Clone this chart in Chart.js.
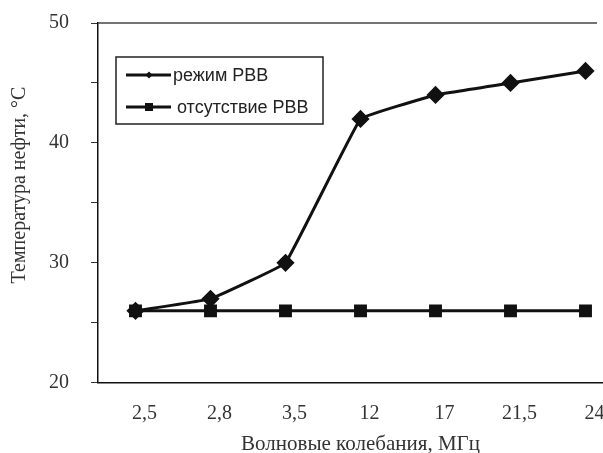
<!DOCTYPE html>
<html>
<head>
<meta charset="utf-8">
<script src="https://cdn.jsdelivr.net/npm/chart.js@4/dist/chart.umd.min.js"></script>
<style>
html,body{margin:0;padding:0;background:#fff;overflow:hidden;}
#wrap{width:633px;height:453px;position:relative;}
</style>
</head>
<body>
<div id="wrap"><canvas id="c"></canvas></div>
<script>
const categories = ['2,5', '2,8', '3,5', '12', '17', '21,5', '24'];
const seriesRVB = [26, 27, 30, 42, 44, 45, 46];
const seriesNoRVB = [26, 26, 26, 26, 26, 26, 26];
const seriesNames = ['режим РВВ', 'отсутствие РВВ'];
const xTitle = 'Волновые колебания, МГц';
const yTitle = 'Температура нефти, °С';
const yMin = 20, yMax = 50, yStep = 5;

const serif = '"Liberation Serif", "Times New Roman", serif';

const decor = {
  id: 'decor',
  afterDraw(chart) {
    const ctx = chart.ctx;
    const a = chart.chartArea;
    ctx.save();
    // top border of plot area
    ctx.strokeStyle = '#444';
    ctx.lineWidth = 1.5;
    ctx.beginPath();
    ctx.moveTo(a.left, a.top);
    ctx.lineTo(597, a.top);
    ctx.stroke();
    // y axis title
    ctx.save();
    ctx.translate(20, 185);
    ctx.rotate(-Math.PI / 2);
    ctx.font = '20px ' + serif;
    ctx.fillStyle = '#333';
    ctx.textAlign = 'center';
    ctx.textBaseline = 'middle';
    ctx.fillText(yTitle, 0, 0);
    ctx.restore();
    // legend box
    const bx = 116, by = 57, bw = 207, bh = 67;
    ctx.fillStyle = '#fff';
    ctx.fillRect(bx, by, bw, bh);
    ctx.strokeStyle = '#222';
    ctx.lineWidth = 1.5;
    ctx.strokeRect(bx, by, bw, bh);
    ctx.font = '18px "Liberation Sans", Arial, sans-serif';
    ctx.textBaseline = 'middle';
    const rows = [75, 107];
    chart.data.datasets.forEach((ds, i) => {
      const y = rows[i];
      ctx.strokeStyle = '#111';
      ctx.lineWidth = 3;
      ctx.beginPath();
      ctx.moveTo(126, y);
      ctx.lineTo(171, y);
      ctx.stroke();
      ctx.fillStyle = '#111';
      if (i === 0) {
        ctx.beginPath();
        ctx.moveTo(149, y - 3.5); ctx.lineTo(152.5, y); ctx.lineTo(149, y + 3.5); ctx.lineTo(145.5, y);
        ctx.closePath(); ctx.fill();
      } else {
        ctx.fillRect(145, y - 4, 8, 8);
      }
      ctx.fillStyle = '#222';
      ctx.textAlign = 'left';
      ctx.fillText(ds.label, i === 0 ? 173 : 177, y + 1);
    });
    ctx.restore();
  }
};

new Chart(document.getElementById('c'), {
  type: 'line',
  data: {
    labels: categories,
    datasets: [
      {
        label: seriesNames[0],
        data: seriesRVB,
        borderColor: '#111',
        backgroundColor: '#111',
        borderWidth: 3,
        tension: 0.06,
        pointStyle: 'rectRot',
        pointRadius: 7,
        pointHoverRadius: 7,
        fill: false
      },
      {
        label: seriesNames[1],
        data: seriesNoRVB,
        borderColor: '#111',
        backgroundColor: '#111',
        borderWidth: 3,
        tension: 0,
        pointStyle: 'rect',
        pointRadius: 7,
        pointHoverRadius: 7,
        fill: false
      }
    ]
  },
  options: {
    responsive: true,
    maintainAspectRatio: false,
    animation: false,
    events: [],
    layout: { padding: { left: 27, right: 4, top: 23, bottom: -4 } },
    plugins: {
      legend: { display: false },
      tooltip: { enabled: false }
    },
    scales: {
      x: {
        type: 'category',
        offset: true,
        grid: { display: false, drawTicks: false },
        border: { display: true, color: '#111', width: 1.5 },
        ticks: {
          color: '#333',
          font: { family: serif, size: 20 },
          padding: 19,
          labelOffset: 9,
          maxRotation: 0,
          autoSkip: false
        },
        title: {
          display: true,
          text: xTitle,
          color: '#333',
          font: { family: serif, size: 21 },
          padding: { top: -13, bottom: 0 }
        }
      },
      y: {
        min: yMin,
        max: yMax,
        afterFit: (s) => { s.paddingTop = 0; s.paddingBottom = 0; },
        grid: { display: true, drawOnChartArea: false, drawTicks: true, tickLength: 7, color: '#333', lineWidth: 1 },
        border: { display: true, color: '#111', width: 1.5 },
        ticks: {
          stepSize: yStep,
          color: '#333',
          font: { family: serif, size: 20 },
          padding: 22,
          callback: (v) => (v % 10 === 0 ? v : '')
        },
        title: { display: false }
      }
    }
  },
  plugins: [decor]
});
</script>
</body>
</html>
